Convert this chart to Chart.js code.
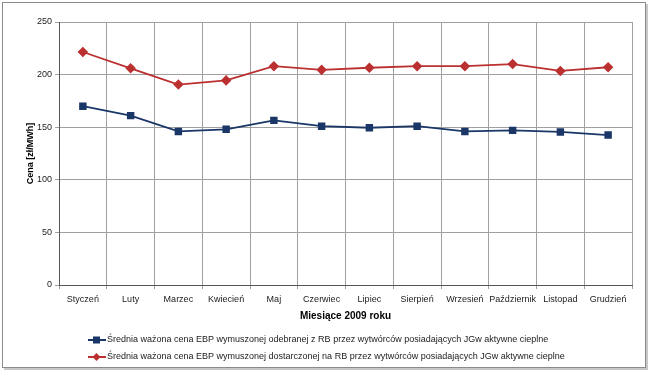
<!DOCTYPE html>
<html>
<head>
<meta charset="utf-8">
<script src="https://cdn.jsdelivr.net/npm/chart.js@4.4.3/dist/chart.umd.min.js"></script>
<style>
  html,body{margin:0;padding:0;background:#fff;}
  #wrap{position:relative;width:650px;height:372px;}
  #frame{position:absolute;left:2px;top:2px;width:642px;height:364px;border:1px solid #8a8a8a;box-shadow:2px 2px 0 #c8c8c8;background:#fff;}
  canvas{position:absolute;left:0;top:0;}
</style>
</head>
<body>
<div id="wrap">
  <div id="frame"></div>
  <canvas id="c" width="650" height="372"></canvas>
</div>
<script>
// dane z wykresu
const months = ['Styczeń','Luty','Marzec','Kwiecień','Maj','Czerwiec','Lipiec','Sierpień','Wrzesień','Październik','Listopad','Grudzień'];
const odebranej = [170, 161, 146, 148, 156.5, 151, 149.5, 151, 146, 147, 145.5, 142.5];
const dostarczonej = [221.5, 206, 190.5, 194.5, 208, 204.5, 206.5, 208, 208, 210, 203.5, 207];
const yTicks = [0, 50, 100, 150, 200, 250];
const labelOdebranej = 'Średnia ważona cena EBP wymuszonej odebranej z RB przez wytwórców posiadających JGw aktywne cieplne';
const labelDostarczonej = 'Średnia ważona cena EBP wymuszonej dostarczonej na RB przez wytwórców posiadających JGw aktywne cieplne';

const BLUE = '#1b3768', RED = '#bb3030';
const FONT = 'Liberation Sans, Arial, sans-serif';

// legenda rysowana recznie (wyrownana do lewej, jedna pod druga)
const legendPlugin = {
  id: 'leftLegend',
  afterDraw(chart){
    const ctx = chart.ctx;
    const rows = [340, 357];
    ctx.save();
    ctx.font = '9px ' + FONT;
    ctx.textBaseline = 'middle';
    chart.data.datasets.forEach((ds, i) => {
      const y = rows[i];
      ctx.strokeStyle = ds.borderColor;
      ctx.lineWidth = 2;
      ctx.beginPath(); ctx.moveTo(88, y); ctx.lineTo(106, y); ctx.stroke();
      ctx.fillStyle = ds.backgroundColor;
      if (ds.pointStyle === 'rect') {
        ctx.fillRect(93, y - 3.5, 7, 7);
      } else {
        ctx.beginPath();
        ctx.moveTo(96.5, y - 4); ctx.lineTo(100.5, y); ctx.lineTo(96.5, y + 4); ctx.lineTo(92.5, y);
        ctx.closePath(); ctx.fill();
      }
      ctx.fillStyle = '#222';
      ctx.fillText(ds.label, 107, y);
    });
    ctx.restore();
  }
};

new Chart(document.getElementById('c').getContext('2d'), {
  type: 'line',
  data: {
    labels: months,
    datasets: [
      { label: labelOdebranej, data: odebranej, borderColor: BLUE, backgroundColor: BLUE,
        borderWidth: 1.8, pointStyle: 'rect', pointRadius: 4, pointHoverRadius: 4, tension: 0 },
      { label: labelDostarczonej, data: dostarczonej, borderColor: RED, backgroundColor: RED,
        borderWidth: 1.8, pointStyle: 'rectRot', pointRadius: 4, pointHoverRadius: 4, tension: 0 }
    ]
  },
  options: {
    responsive: false,
    animation: false,
    layout: { padding: { left: 0, top: 22, right: 18, bottom: 50 } },
    plugins: { legend: { display: false }, tooltip: { enabled: false } },
    scales: {
      x: {
        offset: true,
        grid: { offset: true, color: '#a0a0a0', lineWidth: 1, tickLength: 4, drawOnChartArea: true },
        border: { color: '#555', width: 1 },
        ticks: { color: '#222', font: { family: FONT, size: 9 }, padding: 5, maxRotation: 0, autoSkip: false },
        title: { display: true, text: 'Miesiące 2009 roku', color: '#000',
                 font: { family: FONT, size: 10, weight: 'bold' }, padding: { top: 2, bottom: 0 } },
        afterFit(s){ s.height = 37; }
      },
      y: {
        min: 0, max: 250,
        afterBuildTicks(s){ s.ticks = yTicks.map(v => ({ value: v })); },
        grid: { color: '#a0a0a0', lineWidth: 1, tickLength: 4 },
        border: { color: '#555', width: 1 },
        ticks: { color: '#222', font: { family: FONT, size: 9 }, padding: 3 },
        title: { display: true, text: 'Cena [zł/MWh]', color: '#000',
                 font: { family: FONT, size: 9, weight: 'bold' }, padding: { top: 25, bottom: 25 } },
        afterFit(s){ s.width = 59; }
      }
    }
  },
  plugins: [legendPlugin]
});
</script>
</body>
</html>
